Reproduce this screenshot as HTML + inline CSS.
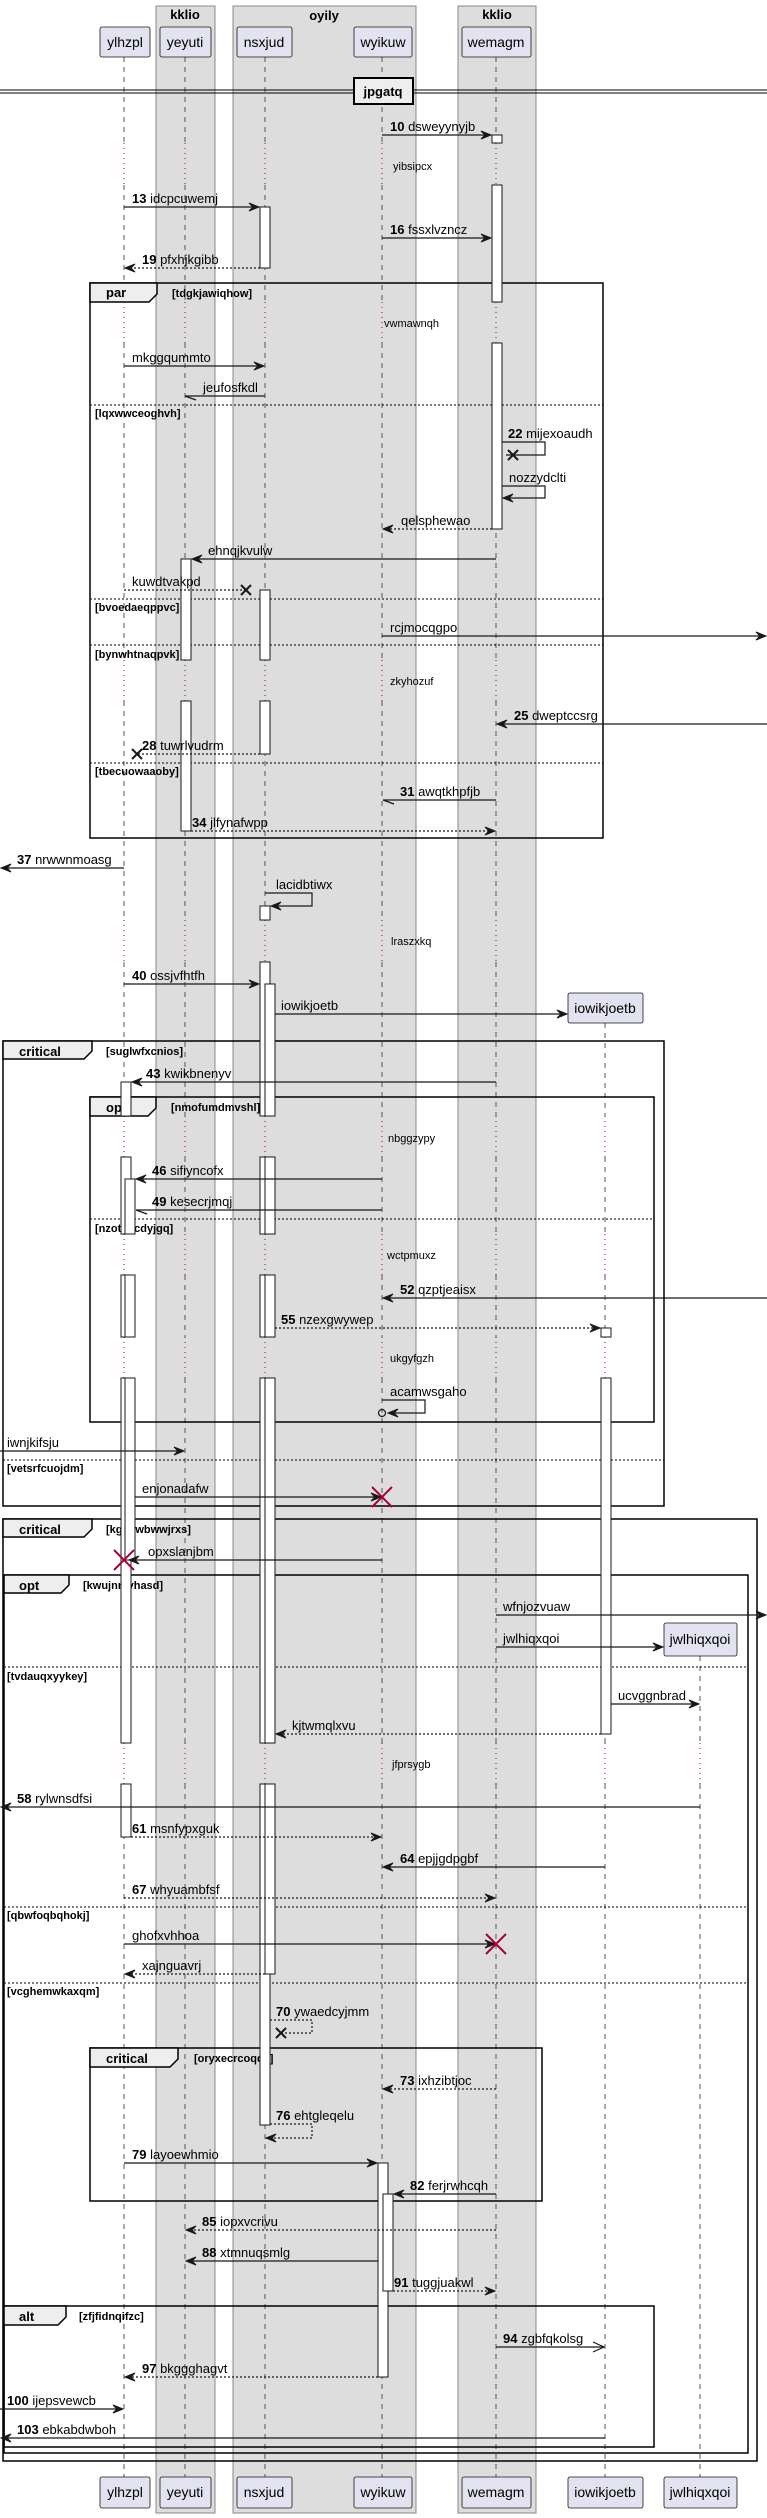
<!DOCTYPE html>
<html><head><meta charset="utf-8"><style>
html,body{margin:0;padding:0;background:#fff}
svg{display:block}
text{font-family:"Liberation Sans",sans-serif;fill:#000}
.m{font-size:13px}
.n{font-size:11px}
.p{font-size:14px}
.g{font-size:13px;font-weight:bold}
.c{font-size:11px;font-weight:bold}
.t{font-size:13px;font-weight:bold}
.ll{stroke:#555;stroke-width:1;stroke-dasharray:5,5;fill:none}
.dl{stroke:#A80036;stroke-width:1;stroke-dasharray:1,4;fill:none}
.s{stroke:#181818;stroke-width:1.2;fill:none}
.d{stroke:#181818;stroke-width:1.2;fill:none;stroke-dasharray:2,2}
.ah{fill:#181818;stroke:#181818;stroke-width:1}
.act{fill:#fff;stroke:#181818;stroke-width:1}
.fr{fill:none;stroke:#000;stroke-width:1.5}
.tab{fill:#EEEEEE;stroke:#000;stroke-width:1.5}
.sep{stroke:#000;stroke-width:1;stroke-dasharray:2,2}
.pb{fill:#E2E2F0;stroke:#181818;stroke-width:0.8}
.rx{stroke:#A80036;stroke-width:2}
.bx{stroke:#181818;stroke-width:2}
</style></head><body>
<svg width="767" height="2518" viewBox="0 0 767 2518" xmlns="http://www.w3.org/2000/svg">
<!-- groups -->
<rect x="156" y="6" width="59" height="2507" fill="#DDDDDD" stroke="#888" stroke-width="1"/>
<rect x="233" y="6" width="183" height="2507" fill="#DDDDDD" stroke="#888" stroke-width="1"/>
<rect x="458" y="6" width="78" height="2507" fill="#DDDDDD" stroke="#888" stroke-width="1"/>
<text class="g" x="185" y="19" text-anchor="middle">kklio</text>
<text class="g" x="324" y="20" text-anchor="middle">oyily</text>
<text class="g" x="497" y="19" text-anchor="middle">kklio</text>

<!-- lifelines -->
<path class="ll" d="M124 57V143M124 185V302M124 343V660M124 701V920M124 962V1116M124 1157V1234M124 1275V1337M124 1378V1743M124 1784V2477"/>
<path class="ll" d="M185 57V143M185 185V302M185 343V660M185 701V920M185 962V1116M185 1157V1234M185 1275V1337M185 1378V1743M185 1784V2477"/>
<path class="ll" d="M265 57V143M265 185V302M265 343V660M265 701V920M265 962V1116M265 1157V1234M265 1275V1337M265 1378V1743M265 1784V2477"/>
<path class="ll" d="M382 57V143M382 185V302M382 343V660M382 701V920M382 962V1116M382 1157V1234M382 1275V1337M382 1378V1743M382 1784V2477"/>
<path class="ll" d="M496 57V143M496 185V302M496 343V660M496 701V920M496 962V1116M496 1157V1234M496 1275V1337M496 1378V1743M496 1784V2477"/>
<path class="ll" d="M605 1023V1116M605 1157V1234M605 1275V1337M605 1378V1743M605 1784V2477"/>
<path class="ll" d="M700 1656V1743M700 1784V2477"/>
<path class="dl" d="M124 143V185M124 302V343M124 660V701M124 920V962M124 1116V1157M124 1234V1275M124 1337V1378M124 1743V1784"/>
<path class="dl" d="M185 143V185M185 302V343M185 660V701M185 920V962M185 1116V1157M185 1234V1275M185 1337V1378M185 1743V1784"/>
<path class="dl" d="M265 143V185M265 302V343M265 660V701M265 920V962M265 1116V1157M265 1234V1275M265 1337V1378M265 1743V1784"/>
<path class="dl" d="M382 143V185M382 302V343M382 660V701M382 920V962M382 1116V1157M382 1234V1275M382 1337V1378M382 1743V1784"/>
<path class="dl" d="M496 143V185M496 302V343M496 660V701M496 920V962M496 1116V1157M496 1234V1275M496 1337V1378M496 1743V1784"/>
<path class="dl" d="M605 1116V1157M605 1234V1275M605 1337V1378M605 1743V1784"/>
<path class="dl" d="M700 1743V1784"/>

<!-- participants -->
<g>
<rect class="pb" x="100" y="27" width="50" height="30" rx="2"/><text class="p" x="125" y="47" text-anchor="middle">ylhzpl</text>
<rect class="pb" x="160" y="27" width="51" height="30" rx="2"/><text class="p" x="185" y="47" text-anchor="middle">yeyuti</text>
<rect class="pb" x="237" y="27" width="55" height="30" rx="2"/><text class="p" x="264" y="47" text-anchor="middle">nsxjud</text>
<rect class="pb" x="354" y="27" width="58" height="30" rx="2"/><text class="p" x="383" y="47" text-anchor="middle">wyikuw</text>
<rect class="pb" x="462" y="27" width="69" height="30" rx="2"/><text class="p" x="496" y="47" text-anchor="middle">wemagm</text>
<rect class="pb" x="568" y="993" width="75" height="30" rx="2"/><text class="p" x="605" y="1013" text-anchor="middle">iowikjoetb</text>
<rect class="pb" x="664" y="1623" width="73" height="33" rx="2"/><text class="p" x="700" y="1644" text-anchor="middle">jwlhiqxqoi</text>
<rect class="pb" x="100" y="2477" width="50" height="31" rx="2"/><text class="p" x="125" y="2497" text-anchor="middle">ylhzpl</text>
<rect class="pb" x="160" y="2477" width="51" height="31" rx="2"/><text class="p" x="185" y="2497" text-anchor="middle">yeyuti</text>
<rect class="pb" x="237" y="2477" width="55" height="31" rx="2"/><text class="p" x="264" y="2497" text-anchor="middle">nsxjud</text>
<rect class="pb" x="354" y="2477" width="58" height="31" rx="2"/><text class="p" x="383" y="2497" text-anchor="middle">wyikuw</text>
<rect class="pb" x="462" y="2477" width="69" height="31" rx="2"/><text class="p" x="496" y="2497" text-anchor="middle">wemagm</text>
<rect class="pb" x="568" y="2477" width="75" height="31" rx="2"/><text class="p" x="605" y="2497" text-anchor="middle">iowikjoetb</text>
<rect class="pb" x="664" y="2477" width="73" height="31" rx="2"/><text class="p" x="700" y="2497" text-anchor="middle">jwlhiqxqoi</text>
</g>

<!-- divider -->
<line x1="0" y1="90" x2="767" y2="90" stroke="#000" stroke-width="1"/>
<line x1="0" y1="93" x2="767" y2="93" stroke="#000" stroke-width="1"/>
<rect x="354" y="78" width="59" height="26" fill="#EEEEEE" stroke="#000" stroke-width="2"/>
<text class="t" x="383" y="96" text-anchor="middle">jpgatq</text>

<!-- frames -->
<g>
<rect class="fr" x="90" y="283" width="513" height="555"/>
<path class="tab" d="M90 283H157V294L149 302H90Z"/>
<text class="t" x="106" y="297">par</text><text class="c" x="172" y="297">[tdgkjawiqhow]</text>
<line class="sep" x1="90" y1="405" x2="603" y2="405"/><text class="c" x="95" y="417">[lqxwwceoghvh]</text>
<line class="sep" x1="90" y1="599" x2="603" y2="599"/><text class="c" x="95" y="611">[bvoedaeqppvc]</text>
<line class="sep" x1="90" y1="645" x2="603" y2="645"/><text class="c" x="95" y="658">[bynwhtnaqpvk]</text>
<line class="sep" x1="90" y1="763" x2="603" y2="763"/><text class="c" x="95" y="775">[tbecuowaaoby]</text>

<rect class="fr" x="3" y="1041" width="661" height="465"/>
<path class="tab" d="M3 1041H92V1051L84 1059H3Z"/>
<text class="t" x="19" y="1056">critical</text><text class="c" x="106" y="1055">[suglwfxcnios]</text>
<line class="sep" x1="3" y1="1460" x2="664" y2="1460"/><text class="c" x="7" y="1472">[vetsrfcuojdm]</text>

<rect class="fr" x="90" y="1097" width="564" height="325"/>
<path class="tab" d="M90 1097H156V1108L148 1116H90Z"/>
<text class="t" x="106" y="1112">opt</text><text class="c" x="171" y="1111">[nmofumdmvshl]</text>
<line class="sep" x1="90" y1="1219" x2="654" y2="1219"/><text class="c" x="95" y="1232">[nzotxgcdyjgq]</text>

<rect class="fr" x="3" y="1519" width="754" height="942"/>
<path class="tab" d="M3 1519H92V1529L84 1537H3Z"/>
<text class="t" x="19" y="1534">critical</text><text class="c" x="106" y="1533">[kghawbwwjrxs]</text>

<rect class="fr" x="4" y="1575" width="744" height="878"/>
<path class="tab" d="M4 1575H69V1585L61 1593H4Z"/>
<text class="t" x="19" y="1590">opt</text><text class="c" x="83" y="1589">[kwujnnlyhasd]</text>
<line class="sep" x1="4" y1="1667" x2="748" y2="1667"/><text class="c" x="7" y="1680">[tvdauqxyykey]</text>
<line class="sep" x1="4" y1="1907" x2="748" y2="1907"/><text class="c" x="7" y="1919">[qbwfoqbqhokj]</text>
<line class="sep" x1="4" y1="1983" x2="748" y2="1983"/><text class="c" x="7" y="1995">[vcghemwkaxqm]</text>

<rect class="fr" x="90" y="2048" width="452" height="153"/>
<path class="tab" d="M90 2048H178V2059L170 2067H90Z"/>
<text class="t" x="106" y="2063">critical</text><text class="c" x="194" y="2062">[oryxecrcoqqk]</text>

<rect class="fr" x="4" y="2306" width="650" height="141"/>
<path class="tab" d="M4 2306H66V2317L58 2325H4Z"/>
<text class="t" x="19" y="2321">alt</text><text class="c" x="79" y="2320">[zfjfidnqifzc]</text>
</g>

<!-- activations -->
<g>
<rect class="act" x="492" y="135" width="10" height="8"/>
<rect class="act" x="492" y="185" width="10" height="117"/>
<rect class="act" x="492" y="343" width="10" height="186"/>
<rect class="act" x="260" y="207" width="10" height="61"/>
<rect class="act" x="260" y="590" width="10" height="70"/>
<rect class="act" x="260" y="701" width="10" height="53"/>
<rect class="act" x="181" y="559" width="10" height="101"/>
<rect class="act" x="181" y="701" width="10" height="130"/>
<rect class="act" x="260" y="906" width="10" height="14"/>
<rect class="act" x="260" y="962" width="10" height="154"/>
<rect class="act" x="260" y="1157" width="10" height="77"/>
<rect class="act" x="260" y="1275" width="10" height="62"/>
<rect class="act" x="260" y="1378" width="10" height="365"/>
<rect class="act" x="260" y="1784" width="10" height="341"/>
<rect class="act" x="265" y="984" width="10" height="132"/>
<rect class="act" x="265" y="1157" width="10" height="77"/>
<rect class="act" x="265" y="1275" width="10" height="62"/>
<rect class="act" x="265" y="1378" width="10" height="365"/>
<rect class="act" x="265" y="1784" width="10" height="190"/>
<rect class="act" x="121" y="1082" width="10" height="34"/>
<rect class="act" x="121" y="1157" width="10" height="77"/>
<rect class="act" x="121" y="1275" width="10" height="62"/>
<rect class="act" x="121" y="1378" width="10" height="365"/>
<rect class="act" x="121" y="1784" width="10" height="53"/>
<rect class="act" x="125" y="1179" width="10" height="55"/>
<rect class="act" x="125" y="1275" width="10" height="62"/>
<rect class="act" x="125" y="1378" width="10" height="182"/>
<rect class="act" x="601" y="1328" width="10" height="9"/>
<rect class="act" x="601" y="1378" width="10" height="356"/>
<rect class="act" x="378" y="2163" width="10" height="214"/>
<rect class="act" x="383" y="2194" width="10" height="97"/>
</g>

<!-- delay notes -->
<text class="n" x="393" y="170">yibsipcx</text>
<text class="n" x="384" y="327">vwmawnqh</text>
<text class="n" x="390" y="685">zkyhozuf</text>
<text class="n" x="391" y="945">lraszxkq</text>
<text class="n" x="388" y="1142">nbggzypy</text>
<text class="n" x="387" y="1259">wctpmuxz</text>
<text class="n" x="390" y="1362">ukgyfgzh</text>
<text class="n" x="392" y="1768">jfprsygb</text>

<!-- messages -->
<g>
<line class="s" x1="382" y1="135" x2="490" y2="135"/><path class="ah" d="M491 135L481 131L485 135L481 139Z"/>
<text class="m" x="390" y="131"><tspan font-weight="bold">10</tspan> dsweyynyjb</text>

<line class="s" x1="124" y1="207" x2="258" y2="207"/><path class="ah" d="M259 207L249 203L253 207L249 211Z"/>
<text class="m" x="132" y="203"><tspan font-weight="bold">13</tspan> idcpcuwemj</text>

<line class="s" x1="382" y1="238" x2="490" y2="238"/><path class="ah" d="M491 238L481 234L485 238L481 242Z"/>
<text class="m" x="390" y="234"><tspan font-weight="bold">16</tspan> fssxlvzncz</text>

<line class="d" x1="260" y1="268" x2="126" y2="268"/><path class="ah" d="M125 268L135 264L131 268L135 272Z"/>
<text class="m" x="142" y="264"><tspan font-weight="bold">19</tspan> pfxhjkgibb</text>

<line class="s" x1="124" y1="366" x2="263" y2="366"/><path class="ah" d="M264 366L254 362L258 366L254 370Z"/>
<text class="m" x="132" y="362">mkggqummto</text>

<line class="s" x1="265" y1="396" x2="185" y2="396"/><line class="s" x1="185" y1="396" x2="196" y2="400"/>
<text class="m" x="203" y="392">jeufosfkdl</text>

<path class="s" d="M502 442H545V455H506"/><path class="bx" d="M508 450L518 460M518 450L508 460"/>
<text class="m" x="508" y="438"><tspan font-weight="bold">22</tspan> mijexoaudh</text>

<path class="s" d="M502 486H545V498H504"/><path class="ah" d="M503 498L513 494L509 498L513 502Z"/>
<text class="m" x="509" y="482">nozzydclti</text>

<line class="d" x1="492" y1="529" x2="384" y2="529"/><path class="ah" d="M383 529L393 525L389 529L393 533Z"/>
<text class="m" x="401" y="525">qelsphewao</text>

<line class="s" x1="496" y1="559" x2="193" y2="559"/><path class="ah" d="M192 559L202 555L198 559L202 563Z"/>
<text class="m" x="208" y="555">ehnqjkvulw</text>

<line class="d" x1="124" y1="590" x2="246" y2="590"/><path class="bx" d="M241 585L251 595M251 585L241 595"/>
<text class="m" x="132" y="586">kuwdtvakpd</text>

<line class="s" x1="382" y1="636" x2="765" y2="636"/><path class="ah" d="M766 636L756 632L760 636L756 640Z"/>
<text class="m" x="390" y="632">rcjmocqgpo</text>

<line class="s" x1="767" y1="724" x2="498" y2="724"/><path class="ah" d="M497 724L507 720L503 724L507 728Z"/>
<text class="m" x="514" y="720"><tspan font-weight="bold">25</tspan> dweptccsrg</text>

<line class="d" x1="260" y1="754" x2="137" y2="754"/><path class="bx" d="M132 749L142 759M142 749L132 759"/>
<text class="m" x="142" y="750"><tspan font-weight="bold">28</tspan> tuwrlvudrm</text>

<line class="s" x1="496" y1="800" x2="383" y2="800"/><line class="s" x1="383" y1="800" x2="394" y2="804"/>
<text class="m" x="400" y="796"><tspan font-weight="bold">31</tspan> awqtkhpfjb</text>

<line class="d" x1="191" y1="831" x2="494" y2="831"/><path class="ah" d="M495 831L485 827L489 831L485 835Z"/>
<text class="m" x="192" y="827"><tspan font-weight="bold">34</tspan> jlfynafwpp</text>

<line class="s" x1="124" y1="868" x2="2" y2="868"/><path class="ah" d="M1 868L11 864L7 868L11 872Z"/>
<text class="m" x="17" y="864"><tspan font-weight="bold">37</tspan> nrwwnmoasg</text>

<path class="s" d="M265 893H312V906H272"/><path class="ah" d="M271 906L281 902L277 906L281 910Z"/>
<text class="m" x="276" y="889">lacidbtiwx</text>

<line class="s" x1="124" y1="984" x2="258" y2="984"/><path class="ah" d="M259 984L249 980L253 984L249 988Z"/>
<text class="m" x="132" y="980"><tspan font-weight="bold">40</tspan> ossjvfhtfh</text>

<line class="s" x1="275" y1="1014" x2="566" y2="1014"/><path class="ah" d="M567 1014L557 1010L561 1014L557 1018Z"/>
<text class="m" x="281" y="1010">iowikjoetb</text>

<line class="s" x1="496" y1="1082" x2="133" y2="1082"/><path class="ah" d="M132 1082L142 1078L138 1082L142 1086Z"/>
<text class="m" x="146" y="1078"><tspan font-weight="bold">43</tspan> kwikbnenyv</text>

<line class="s" x1="382" y1="1179" x2="137" y2="1179"/><path class="ah" d="M136 1179L146 1175L142 1179L146 1183Z"/>
<text class="m" x="152" y="1175"><tspan font-weight="bold">46</tspan> sifiyncofx</text>

<line class="s" x1="382" y1="1210" x2="136" y2="1210"/><line class="s" x1="136" y1="1210" x2="147" y2="1214"/>
<text class="m" x="152" y="1206"><tspan font-weight="bold">49</tspan> kesecrjmqj</text>

<line class="s" x1="767" y1="1298" x2="384" y2="1298"/><path class="ah" d="M383 1298L393 1294L389 1298L393 1302Z"/>
<text class="m" x="400" y="1294"><tspan font-weight="bold">52</tspan> qzptjeaisx</text>

<line class="d" x1="275" y1="1328" x2="599" y2="1328"/><path class="ah" d="M600 1328L590 1324L594 1328L590 1332Z"/>
<text class="m" x="281" y="1324"><tspan font-weight="bold">55</tspan> nzexgwywep</text>

<path class="s" d="M382 1400H425V1413H389"/><path class="ah" d="M388 1413L398 1409L394 1413L398 1417Z"/>
<circle cx="382" cy="1413" r="3.5" fill="none" stroke="#181818" stroke-width="1.2"/>
<text class="m" x="390" y="1396">acamwsgaho</text>

<line class="s" x1="0" y1="1451" x2="183" y2="1451"/><path class="ah" d="M184 1451L174 1447L178 1451L174 1455Z"/>
<text class="m" x="7" y="1447">iwnjkifsju</text>

<line class="s" x1="135" y1="1497" x2="380" y2="1497"/><path class="ah" d="M381 1497L371 1493L375 1497L371 1501Z"/>
<path class="rx" d="M372 1487L392 1507M392 1487L372 1507"/>
<text class="m" x="142" y="1493">enjonadafw</text>

<line class="s" x1="382" y1="1560" x2="130" y2="1560"/><path class="ah" d="M129 1560L139 1556L135 1560L139 1564Z"/>
<path class="rx" d="M114 1550L134 1570M134 1550L114 1570"/>
<text class="m" x="148" y="1556">opxslanjbm</text>

<line class="s" x1="496" y1="1615" x2="765" y2="1615"/><path class="ah" d="M766 1615L756 1611L760 1615L756 1619Z"/>
<text class="m" x="503" y="1611">wfnjozvuaw</text>

<line class="s" x1="496" y1="1647" x2="662" y2="1647"/><path class="ah" d="M663 1647L653 1643L657 1647L653 1651Z"/>
<text class="m" x="503" y="1643">jwlhiqxqoi</text>

<line class="s" x1="611" y1="1704" x2="698" y2="1704"/><path class="ah" d="M699 1704L689 1700L693 1704L689 1708Z"/>
<text class="m" x="618" y="1700">ucvggnbrad</text>

<line class="d" x1="601" y1="1734" x2="277" y2="1734"/><path class="ah" d="M276 1734L286 1730L282 1734L286 1738Z"/>
<text class="m" x="292" y="1730">kjtwmqlxvu</text>

<line class="s" x1="700" y1="1807" x2="2" y2="1807"/><path class="ah" d="M1 1807L11 1803L7 1807L11 1811Z"/>
<text class="m" x="17" y="1803"><tspan font-weight="bold">58</tspan> rylwnsdfsi</text>

<line class="d" x1="131" y1="1837" x2="380" y2="1837"/><path class="ah" d="M381 1837L371 1833L375 1837L371 1841Z"/>
<text class="m" x="132" y="1833"><tspan font-weight="bold">61</tspan> msnfypxguk</text>

<line class="s" x1="605" y1="1867" x2="384" y2="1867"/><path class="ah" d="M383 1867L393 1863L389 1867L393 1871Z"/>
<text class="m" x="400" y="1863"><tspan font-weight="bold">64</tspan> epjjgdpgbf</text>

<line class="d" x1="124" y1="1898" x2="494" y2="1898"/><path class="ah" d="M495 1898L485 1894L489 1898L485 1902Z"/>
<text class="m" x="132" y="1894"><tspan font-weight="bold">67</tspan> whyuambfsf</text>

<line class="s" x1="124" y1="1944" x2="494" y2="1944"/><path class="ah" d="M495 1944L485 1940L489 1944L485 1948Z"/>
<path class="rx" d="M486 1934L506 1954M506 1934L486 1954"/>
<text class="m" x="132" y="1940">ghofxvhhoa</text>

<line class="d" x1="265" y1="1974" x2="126" y2="1974"/><path class="ah" d="M125 1974L135 1970L131 1974L135 1978Z"/>
<text class="m" x="142" y="1970">xajnguavrj</text>

<path class="d" d="M270 2020H312V2033H281"/><path class="bx" d="M276 2028L286 2038M286 2028L276 2038"/>
<text class="m" x="276" y="2016"><tspan font-weight="bold">70</tspan> ywaedcyjmm</text>

<line class="d" x1="496" y1="2089" x2="384" y2="2089"/><path class="ah" d="M383 2089L393 2085L389 2089L393 2093Z"/>
<text class="m" x="400" y="2085"><tspan font-weight="bold">73</tspan> ixhzibtjoc</text>

<path class="d" d="M270 2124H312V2138H267"/><path class="ah" d="M266 2138L276 2134L272 2138L276 2142Z"/>
<text class="m" x="276" y="2120"><tspan font-weight="bold">76</tspan> ehtgleqelu</text>

<line class="s" x1="124" y1="2163" x2="376" y2="2163"/><path class="ah" d="M377 2163L367 2159L371 2163L367 2167Z"/>
<text class="m" x="132" y="2159"><tspan font-weight="bold">79</tspan> layoewhmio</text>

<line class="s" x1="496" y1="2194" x2="395" y2="2194"/><path class="ah" d="M394 2194L404 2190L400 2194L404 2198Z"/>
<text class="m" x="410" y="2190"><tspan font-weight="bold">82</tspan> ferjrwhcqh</text>

<line class="d" x1="496" y1="2230" x2="187" y2="2230"/><path class="ah" d="M186 2230L196 2226L192 2230L196 2234Z"/>
<text class="m" x="202" y="2226"><tspan font-weight="bold">85</tspan> iopxvcrivu</text>

<line class="s" x1="378" y1="2261" x2="187" y2="2261"/><path class="ah" d="M186 2261L196 2257L192 2261L196 2265Z"/>
<text class="m" x="202" y="2257"><tspan font-weight="bold">88</tspan> xtmnuqsmlg</text>

<line class="d" x1="393" y1="2291" x2="494" y2="2291"/><path class="ah" d="M495 2291L485 2287L489 2291L485 2295Z"/>
<text class="m" x="394" y="2287"><tspan font-weight="bold">91</tspan> tuggjuakwl</text>

<line class="s" x1="496" y1="2347" x2="604" y2="2347"/><path class="s" d="M593 2342L604 2347L593 2352"/>
<text class="m" x="503" y="2343"><tspan font-weight="bold">94</tspan> zgbfqkolsg</text>

<line class="d" x1="378" y1="2377" x2="126" y2="2377"/><path class="ah" d="M125 2377L135 2373L131 2377L135 2381Z"/>
<text class="m" x="142" y="2373"><tspan font-weight="bold">97</tspan> bkggghagvt</text>

<line class="s" x1="0" y1="2409" x2="122" y2="2409"/><path class="ah" d="M123 2409L113 2405L117 2409L113 2413Z"/>
<text class="m" x="7" y="2405"><tspan font-weight="bold">100</tspan> ijepsvewcb</text>

<line class="s" x1="605" y1="2438" x2="2" y2="2438"/><path class="ah" d="M1 2438L11 2434L7 2438L11 2442Z"/>
<text class="m" x="17" y="2434"><tspan font-weight="bold">103</tspan> ebkabdwboh</text>
</g>
</svg>
</body></html>
